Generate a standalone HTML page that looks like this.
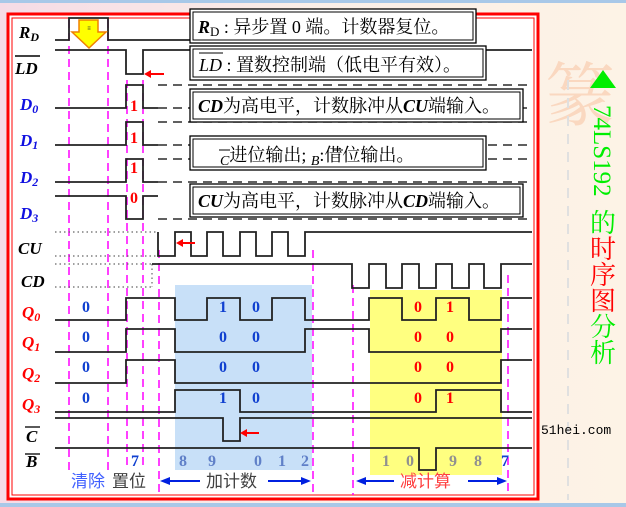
<!DOCTYPE html>
<html><head><meta charset="utf-8"><style>
html,body{margin:0;padding:0;}
body{width:626px;height:507px;overflow:hidden;background:linear-gradient(90deg,#f6dbe6 0%,#fbefe8 50%,#fdf3e6 100%);}
svg{display:block;}
.lab{font-family:"Liberation Serif",serif;font-style:italic;font-weight:bold;font-size:17px;}
.box{font-family:"Liberation Serif","Noto Serif CJK SC",serif;font-size:18px;fill:#000;}
.num{font-family:"Liberation Serif",serif;font-weight:bold;font-size:16px;}
</style></head><body>
<svg width="626" height="507" viewBox="0 0 626 507" xmlns="http://www.w3.org/2000/svg">
<rect x="0" y="0" width="626" height="3" fill="#a8c8e8"/>
<rect x="0" y="503" width="626" height="4" fill="#a8c8e8"/>
<!-- right deco -->
<text x="545" y="120" font-family="Noto Serif CJK SC,serif" font-size="70" fill="#fad8c0">篆</text>
<g stroke="#e0e0e0" stroke-width="2" stroke-dasharray="10,8"><line x1="568" y1="80" x2="568" y2="500"/><line x1="630" y1="80" x2="630" y2="500"/></g>
<!-- frame -->
<rect x="8" y="14" width="530" height="485" fill="#fff" stroke="#ff0000" stroke-width="3"/>
<rect x="12" y="18" width="522" height="477" fill="none" stroke="#ff0000" stroke-width="1"/>
<!-- shaded regions -->
<rect x="175" y="285" width="137" height="185" fill="#c8e0f8"/>
<rect x="370" y="290" width="132" height="185" fill="#ffff80"/>
<!-- magenta dashed -->
<g stroke="#ff00ff" stroke-width="1.5" stroke-dasharray="8,5">
<line x1="69" y1="20" x2="69" y2="470"/><line x1="108" y1="20" x2="108" y2="470"/>
<line x1="127" y1="80" x2="127" y2="470"/><line x1="143" y1="80" x2="143" y2="470"/>
<line x1="159" y1="250" x2="159" y2="495"/><line x1="313" y1="250" x2="313" y2="495"/>
<line x1="353" y1="285" x2="353" y2="495"/><line x1="508" y1="275" x2="508" y2="495"/>
</g>
<!-- dashed continuations -->
<g stroke="#000" stroke-width="1.3" stroke-dasharray="9,6" fill="none">
<line x1="158" y1="85" x2="532" y2="85"/><line x1="158" y1="108" x2="532" y2="108"/>
<line x1="158" y1="122" x2="532" y2="122"/><line x1="158" y1="145" x2="532" y2="145"/>
<line x1="158" y1="159" x2="532" y2="159"/><line x1="158" y1="182" x2="532" y2="182"/>
<line x1="158" y1="219" x2="532" y2="219"/>
</g>
<g stroke="#666" stroke-width="1.2" stroke-dasharray="1.5,3" fill="none">
<line x1="55" y1="232" x2="158" y2="232"/><line x1="55" y1="256" x2="158" y2="256"/>
<line x1="55" y1="264" x2="152" y2="264"/><line x1="55" y1="287" x2="152" y2="287"/><line x1="152" y1="264" x2="152" y2="287"/>
</g>
<!-- waveforms -->
<g stroke="#222" stroke-width="1.8" fill="none">
<polyline points="55,40 69,40 69,18 108,18 108,40 195,40"/>
<polyline points="55,50 126,50 126,74 143,74 143,50 532,50"/>
<polyline points="55,108 126,108 126,85 143,85 143,108 158,108"/>
<polyline points="55,145 126,145 126,122 143,122 143,145 158,145"/>
<polyline points="55,182 126,182 126,159 143,159 143,182 158,182"/>
<polyline points="55,196 126,196 126,219 143,219 143,196 158,196"/>
<polyline points="158,232 158,256 175,256 175,232 191,232 191,256 207,256 207,232 223,232 223,256 240,256 240,232 256,232 256,256 272,256 272,232 288,232 288,256 305,256 305,232 532,232"/>
<polyline points="152,264 352,264 352,288 369,288 369,264 386,264 386,288 402,288 402,264 419,264 419,288 436,288 436,264 452,264 452,288 469,288 469,264 484,264 484,288 501,288 501,264 532,264"/>
<polyline points="55,320 126,320 126,298 175,298 175,320 207,320 207,298 240,298 240,320 272,320 272,298 305,298 305,320 369,320 369,298 402,298 402,320 436,320 436,298 469,298 469,320 501,320 501,298 532,298"/>
<polyline points="55,352 126,352 126,329 175,329 175,352 305,352 305,329 369,329 369,352 501,352 501,329 532,329"/>
<polyline points="55,383 126,383 126,360 175,360 175,383 501,383 501,360 532,360"/>
<polyline points="55,412 175,412 175,390 240,390 240,412 436,412 436,390 501,390 501,412 532,412"/>
<polyline points="55,418 223,418 223,441 240,441 240,418 532,418"/>
<polyline points="55,448 419,448 419,470 436,470 436,448 532,448"/>
</g>
<!-- red arrows -->
<g stroke="#f00" stroke-width="2" fill="#f00">
<line x1="148" y1="74" x2="164" y2="74"/><polygon points="144,74 151,70 151,78" stroke="none"/>
<line x1="180" y1="243" x2="195" y2="243"/><polygon points="176,243 183,239 183,247" stroke="none"/>
<line x1="244" y1="433" x2="259" y2="433"/><polygon points="240,433 247,429 247,437" stroke="none"/>
</g>
<!-- yellow arrow -->
<polygon points="79,20 98,20 98,32 106,32 89,48 72,32 79,32" fill="#ffff00" stroke="#f08000" stroke-width="1.5"/>
<text x="89" y="30" font-size="6" text-anchor="middle" fill="#333" font-family="Liberation Sans,sans-serif">≡</text>
<!-- labels -->
<g class="lab">
<text x="19" y="38">R<tspan font-size="12" dy="3">D</tspan></text>
<text x="15" y="74">LD</text><line x1="15" y1="56" x2="40" y2="56" stroke="#000" stroke-width="1.5"/>
<text x="20" y="110" fill="#1010e0">D<tspan font-size="12" dy="3">0</tspan></text>
<text x="20" y="146" fill="#1010e0">D<tspan font-size="12" dy="3">1</tspan></text>
<text x="20" y="183" fill="#1010e0">D<tspan font-size="12" dy="3">2</tspan></text>
<text x="20" y="219" fill="#1010e0">D<tspan font-size="12" dy="3">3</tspan></text>
<text x="18" y="254">CU</text>
<text x="21" y="287">CD</text>
<text x="22" y="318" fill="#f00">Q<tspan font-size="12" dy="3">0</tspan></text>
<text x="22" y="348" fill="#f00">Q<tspan font-size="12" dy="3">1</tspan></text>
<text x="22" y="379" fill="#f00">Q<tspan font-size="12" dy="3">2</tspan></text>
<text x="22" y="410" fill="#f00">Q<tspan font-size="12" dy="3">3</tspan></text>
<text x="26" y="442">C</text><line x1="25" y1="427" x2="40" y2="427" stroke="#000" stroke-width="1.3"/>
<text x="26" y="467">B</text><line x1="25" y1="454" x2="40" y2="454" stroke="#000" stroke-width="1.3"/>
</g>
<!-- numbers -->
<g class="num" fill="#f00"><text x="130" y="111">1</text><text x="130" y="143">1</text><text x="130" y="173">1</text><text x="130" y="203">0</text></g>
<g class="num" fill="#1040d0">
<text x="82" y="312">0</text><text x="82" y="342">0</text><text x="82" y="372">0</text><text x="82" y="403">0</text>
<text x="219" y="312">1</text><text x="252" y="312">0</text><text x="219" y="342">0</text><text x="252" y="342">0</text>
<text x="219" y="372">0</text><text x="252" y="372">0</text><text x="219" y="403">1</text><text x="252" y="403">0</text>
<text x="131" y="466">7</text><text x="501" y="466">7</text>
</g>
<g class="num" fill="#f00">
<text x="414" y="312">0</text><text x="446" y="312">1</text><text x="414" y="342">0</text><text x="446" y="342">0</text>
<text x="414" y="372">0</text><text x="446" y="372">0</text><text x="414" y="403">0</text><text x="446" y="403">1</text>
</g>
<g class="num" fill="#6080c8"><text x="179" y="466">8</text><text x="208" y="466">9</text><text x="254" y="466">0</text><text x="278" y="466">1</text><text x="301" y="466">2</text></g>
<g class="num" fill="#909090"><text x="382" y="466">1</text><text x="406" y="466">0</text><text x="449" y="466">9</text><text x="474" y="466">8</text></g>
<!-- bottom text -->
<g font-family="Liberation Sans,Noto Sans CJK SC,sans-serif" font-size="17">
<text x="71" y="487" fill="#4060ff">清除</text><text x="112" y="487" fill="#404040">置位</text>
<text x="206" y="487" fill="#404040">加计数</text>
<text x="400" y="487" fill="#ff4040">减计算</text>
</g>
<g stroke="#0020e0" stroke-width="2" fill="#0020e0">
<line x1="166" y1="481" x2="200" y2="481"/><polygon points="160,481 170,477 170,485" stroke="none"/>
<line x1="268" y1="481" x2="304" y2="481"/><polygon points="311,481 301,477 301,485" stroke="none"/>
<line x1="362" y1="481" x2="394" y2="481"/><polygon points="356,481 366,477 366,485" stroke="none"/>
<line x1="468" y1="481" x2="500" y2="481"/><polygon points="507,481 497,477 497,485" stroke="none"/>
</g>
<!-- text boxes -->
<g fill="#fff" stroke="#000">
<rect x="190" y="9" width="286" height="34" stroke-width="1.3"/><rect x="193" y="12" width="280" height="28" stroke-width="1"/>
<rect x="190" y="46" width="296" height="34" stroke-width="1.3"/><rect x="193" y="49" width="290" height="28" stroke-width="1"/>
<rect x="190" y="89" width="333" height="33" stroke-width="1.3"/><rect x="193" y="92" width="327" height="27" stroke-width="1"/>
<rect x="190" y="136" width="296" height="34" stroke-width="1.3"/><rect x="193" y="139" width="290" height="28" stroke-width="1"/>
<rect x="190" y="184" width="333" height="33" stroke-width="1.3"/><rect x="193" y="187" width="327" height="27" stroke-width="1"/>
</g>
<g class="box">
<text x="198" y="33"><tspan font-style="italic" font-weight="bold">R</tspan><tspan font-size="13" dy="3">D</tspan><tspan dy="-3"> : 异步置 0 端。计数器复位。</tspan></text>
<text x="199" y="71"><tspan font-style="italic">LD</tspan> :  置数控制端（低电平有效）。</text>
<line x1="199" y1="53" x2="223" y2="53" stroke="#000"/>
<text x="198" y="112"><tspan font-style="italic" font-weight="bold">CD</tspan>为高电平，计数脉冲从<tspan font-style="italic" font-weight="bold">CU</tspan>端输入。</text>
<text x="220" y="161"><tspan font-style="italic" font-size="14" dy="4">C</tspan><tspan dy="-4">进位输出;  </tspan><tspan font-style="italic" font-size="14" dy="4">B</tspan><tspan dy="-4">:借位输出。</tspan></text>
<line x1="219" y1="150" x2="230" y2="150" stroke="#000"/><line x1="333" y1="150" x2="343" y2="150" stroke="#000"/>
<text x="198" y="207"><tspan font-style="italic" font-weight="bold">CU</tspan>为高电平，计数脉冲从<tspan font-style="italic" font-weight="bold">CD</tspan>端输入。</text>
</g>
<!-- right side title -->
<polygon points="603,70 590,88 616,88" fill="#00ee00"/>
<text transform="translate(594,105) rotate(90)" font-family="Liberation Serif,serif" font-size="25" fill="#00ee00">74LS192</text>
<g font-family="Noto Serif CJK SC,serif" font-size="26" text-anchor="middle">
<text x="603" y="232" fill="#00ee00">的</text>
<text x="603" y="258" fill="#ff0000">时</text>
<text x="603" y="284" fill="#ff0000">序</text>
<text x="603" y="310" fill="#ff0000">图</text>
<text x="603" y="336" fill="#00ee00">分</text>
<text x="603" y="362" fill="#00ee00">析</text>
</g>
<text x="541" y="434" font-family="Liberation Mono,monospace" font-size="13" fill="#000">51hei.com</text>
</svg>
</body></html>
